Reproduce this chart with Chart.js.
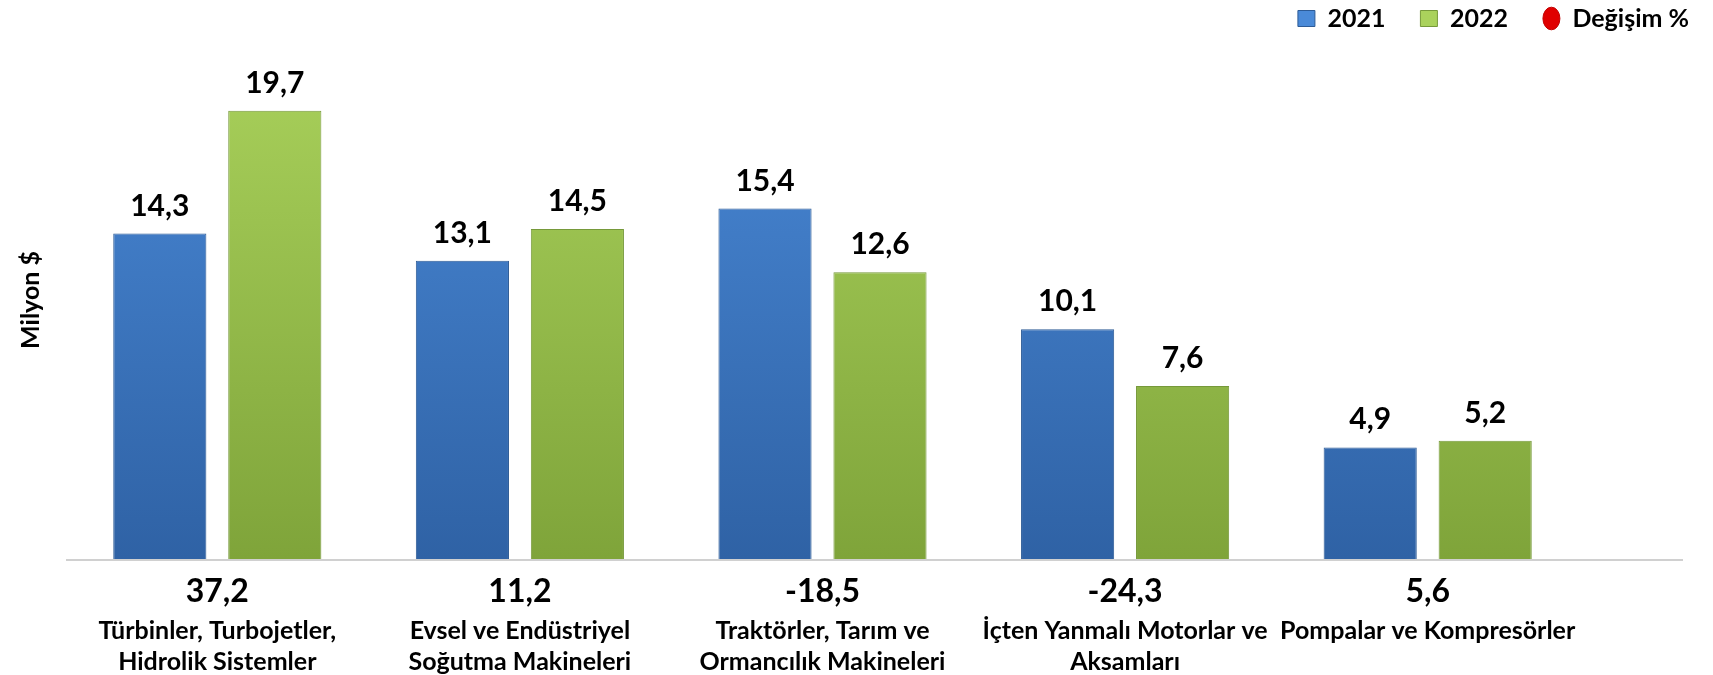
<!DOCTYPE html>
<html>
<head>
<meta charset="utf-8">
<script src="https://cdn.jsdelivr.net/npm/chart.js@4"></script>
<style>
  html, body { margin: 0; padding: 0; background: #fff; }
  #kutu { width: 1713px; height: 675px; }
</style>
</head>
<body>
<div id="kutu"><canvas id="grafik"></canvas></div>
<script>
// Kategoriler (iki satırlık etiketler)
const kategoriler = [
  ['Türbinler, Turbojetler,', 'Hidrolik Sistemler'],
  ['Evsel ve Endüstriyel', 'Soğutma Makineleri'],
  ['Traktörler, Tarım ve', 'Ormancılık Makineleri'],
  ['İçten Yanmalı Motorlar ve', 'Aksamları'],
  ['Pompalar ve Kompresörler']
];
const yil2021 = [14.3, 13.1, 15.4, 10.1, 4.9];
const yil2022 = [19.7, 14.5, 12.6, 7.6, 5.2];
const degisim = [37.2, 11.2, -18.5, -24.3, 5.6];

const FONT = 'Lato, "Open Sans", sans-serif';

function virgul(v) {
  return v.toFixed(1).replace('.', ',');
}

// dikey degrade
function degrade(ctx, ust, alt) {
  const chart = ctx.chart;
  const a = chart.chartArea;
  if (!a) return ust;
  const g = chart.ctx.createLinearGradient(0, a.top, 0, a.bottom);
  g.addColorStop(0, ust);
  g.addColorStop(1, alt);
  return g;
}

// çubuk üstü değerler + eksen altı değişim yüzdeleri
const etiketler = {
  id: 'etiketler',
  afterDatasetsDraw(chart) {
    const c = chart.ctx;
    c.save();
    c.fillStyle = '#000';
    c.textAlign = 'center';
    c.textBaseline = 'alphabetic';
    c.font = 'bold 30px ' + FONT;
    [0, 1].forEach(i => {
      chart.getDatasetMeta(i).data.forEach((bar, j) => {
        const v = chart.data.datasets[i].data[j];
        c.fillText(virgul(v), bar.x, bar.y - 18);
      });
    });
    // değişim yüzdeleri
    const x = chart.scales.x;
    c.font = 'bold 32px ' + FONT;
    c.textBaseline = 'middle';
    degisim.forEach((v, j) => {
      c.fillText(virgul(v), x.getPixelForValue(j), chart.chartArea.bottom + 33);
    });
    // yatay eksen çizgisi
    c.strokeStyle = '#d0d0d0';
    c.lineWidth = 2;
    c.beginPath();
    c.moveTo(chart.chartArea.left, chart.chartArea.bottom + 1);
    c.lineTo(chart.chartArea.right + 104, chart.chartArea.bottom + 1);
    c.stroke();
    c.restore();
  }
};

const chart = new Chart(document.getElementById('grafik'), {
  type: 'bar',
  data: {
    labels: kategoriler,
    datasets: [
      {
        label: '2021',
        data: yil2021,
        backgroundColor: ctx => degrade(ctx, '#4a8ad8', '#2f62a5'),
        borderColor: '#2d5b96',
        borderWidth: 1,
        pointStyle: 'rect',
        categoryPercentage: 0.76,
        barPercentage: 0.81
      },
      {
        label: '2022',
        data: yil2022,
        backgroundColor: ctx => degrade(ctx, '#aad25c', '#7fa43a'),
        borderColor: '#76993a',
        borderWidth: 1,
        pointStyle: 'rect',
        categoryPercentage: 0.76,
        barPercentage: 0.81
      },
      {
        type: 'line',
        label: 'Değişim %',
        data: degisim,
        yAxisID: 'y2',
        showLine: false,
        pointRadius: 0,
        pointHoverRadius: 0,
        backgroundColor: '#e00000',
        borderColor: '#c00000',
        pointStyle: 'circle'
      }
    ]
  },
  options: {
    responsive: true,
    maintainAspectRatio: false,
    animation: false,
    layout: { padding: { left: 0, right: -11, top: -29, bottom: 0 } },
    plugins: {
      legend: {
        position: 'top',
        align: 'end',
        labels: {
          usePointStyle: true,
          pointStyleWidth: 17,
          boxHeight: 16,
          padding: 35,
          color: '#000',
          font: { family: FONT, size: 25, weight: 'bold' }
        }
      },
      tooltip: { enabled: false }
    },
    scales: {
      x: {
        grid: { display: false, drawTicks: false },
        border: { display: false },
        ticks: {
          color: '#000',
          padding: 56,
          maxRotation: 0,
          autoSkip: false,
          font: { family: FONT, size: 25, weight: 'bold', lineHeight: 1.24 }
        },
        afterFit(s) { s.height = 116; }
      },
      y: {
        min: 0,
        max: 22.76,
        grid: { display: false },
        border: { display: false },
        ticks: { display: false },
        title: {
          display: true,
          text: 'Milyon $',
          color: '#000',
          padding: { top: 16, bottom: 0 },
          font: { family: FONT, size: 25, weight: 'bold' }
        },
        afterFit(s) { s.width = 66; }
      },
      y2: {
        position: 'right',
        min: -40,
        max: 60,
        grid: { display: false },
        border: { display: false },
        ticks: { display: false },
        afterFit(s) { s.width = 145; }
      }
    }
  },
  plugins: [etiketler]
});
</script>
</body>
</html>
